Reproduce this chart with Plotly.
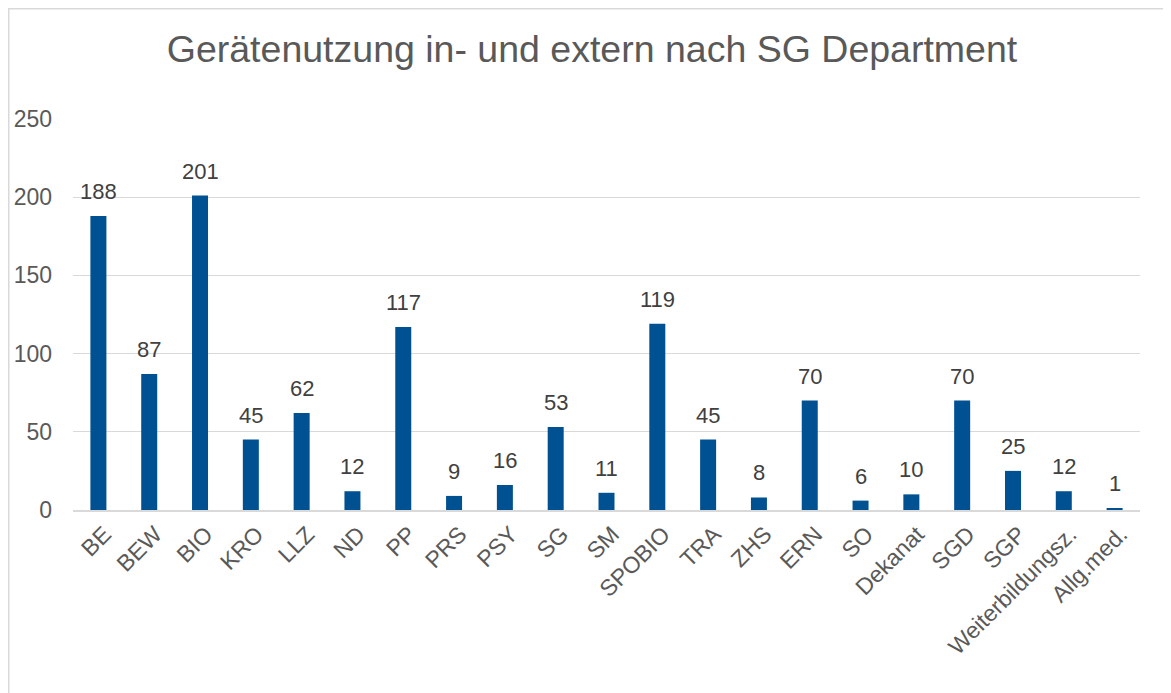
import plotly.graph_objects as go

categories = ["BE", "BEW", "BIO", "KRO", "LLZ", "ND", "PP", "PRS", "PSY", "SG", "SM",
              "SPOBIO", "TRA", "ZHS", "ERN", "SO", "Dekanat", "SGD", "SGP",
              "Weiterbildungsz.", "Allg.med."]
values = [188, 87, 201, 45, 62, 12, 117, 9, 16, 53, 11, 119, 45, 8, 70, 6, 10, 70, 25, 12, 1]
y_ticks = [0, 50, 100, 150, 200, 250]

# page body has an 8px margin, so the figure is laid out 8px smaller
W, H = 1163, 685
ml, mt = 65, 110
pw, ph = 1067, 392
mr, mb = W - ml - pw, H - mt - ph

fig = go.Figure(go.Bar(
    x=categories, y=values,
    marker=dict(color="#005192", line=dict(width=0)),
    cliponaxis=False,
))

for c, v in zip(categories, values):
    fig.add_annotation(x=c, y=v, text=str(v), showarrow=False,
                       xanchor="center", yanchor="bottom", yshift=10,
                       font=dict(family="Liberation Sans, Arial", size=22, color="#404040"))

fig.update_layout(
    width=W, height=H,
    margin=dict(l=ml, r=mr, t=mt, b=mb, autoexpand=False),
    paper_bgcolor="white", plot_bgcolor="white",
    bargap=0.685,
    title=dict(text="Gerätenutzung in- und extern nach SG Department",
               x=(584 - ml) / pw, xanchor="center", xref="paper",
               y=1 - 41 / H, yanchor="middle",
               font=dict(family="Liberation Sans, Arial", size=37.5, color="#595959")),
    font=dict(family="Liberation Sans, Arial", color="#595959"),
    showlegend=False,
    xaxis=dict(tickangle=-45, tickfont=dict(size=23, color="#595959"),
               ticklabelshift=6,
               showgrid=False, showline=True, linecolor="#d9d9d9", linewidth=1.5,
               ticks="", fixedrange=True, automargin=False),
    yaxis=dict(range=[0, 250.6], tickvals=y_ticks, ticktext=[str(t) for t in y_ticks],
               tickfont=dict(size=23, color="#595959"),
               showgrid=True, gridcolor="#d9d9d9", gridwidth=1.3,
               zeroline=False, showline=False, ticks="", ticklabelstandoff=20,
               fixedrange=True, automargin=False),
    shapes=[dict(type="rect", xref="paper", yref="paper",
                 x0=(0.75 - ml) / pw, x1=1 + (mr + 20) / pw,
                 y0=-(mb + 20) / ph, y1=1 + (mt - 0.75) / ph,
                 line=dict(color="#d9d9d9", width=1.5), fillcolor="rgba(0,0,0,0)",
                 layer="below")],
)

fig.write_html("out.html")
